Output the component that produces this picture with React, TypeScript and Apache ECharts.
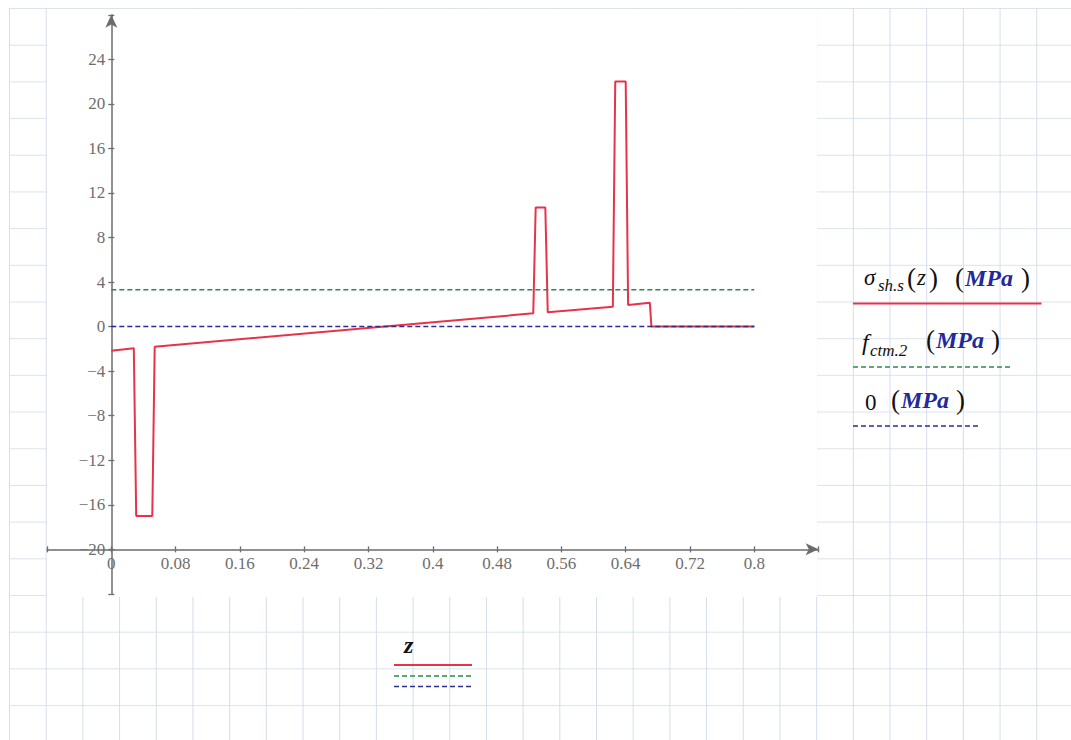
import React, { useEffect, useRef } from "react";
import * as echarts from "echarts";

// Shrinkage stress along the section depth z (m) and reference levels (MPa)
const zValues = [0, 0.028, 0.031, 0.051, 0.054, 0.525, 0.528, 0.54, 0.543, 0.624, 0.627, 0.64, 0.643, 0.67, 0.672, 0.8];
const sigmaValues = [-2.16, -1.95, -17, -17, -1.8, 1.19, 10.7, 10.7, 1.28, 1.79, 22, 22, 1.94, 2.15, 0, 0];
const fctmLevel = 3.3;
const zeroLevel = 0;
const zSpan = [0, 0.8];

// Axis extents and tick steps
const xExtent = [-0.08, 0.88];
const yExtent = [-24, 28];
const xStep = 0.08;
const yStep = 4;
const xLabelRange = [0, 0.8];
const yLabelRange = [-20, 24];

const W = 1071;
const H = 740;
const GRID = { left: 47, top: 14.8, width: 771.6, height: 579.1 };

const RED = "#e8324a";
const GREEN = "#2a8a4c";
const NAVY = "#2c2c92";
const MPA = "#1f2a9c";
const AXIS = "#6c6c6c";
const LABEL = "#6e6e6e";
const SERIF = "'Liberation Serif', 'Times New Roman', serif";

function fmtNum(v: number): string {
  const s = String(+v.toFixed(2));
  return s.replace("-", "\u2212");
}

function txt(x: number, y: number, text: string, extra: any = {}) {
  return {
    type: "text",
    x,
    y,
    style: {
      text,
      fontFamily: SERIF,
      fontSize: 22,
      fill: "#111",
      verticalAlign: "middle",
      align: "left",
      ...extra,
    },
  };
}

function seg(x1: number, y1: number, x2: number, y2: number, stroke: string, dash?: number[], lw = 1.6) {
  return {
    type: "line",
    shape: { x1, y1, x2, y2 },
    style: { stroke, lineWidth: lw, lineDash: dash || null },
  };
}

export default function App() {
  const ref = useRef<HTMLDivElement>(null);

  useEffect(() => {
    if (!ref.current) return;
    const chart = echarts.init(ref.current, undefined, { renderer: "svg" });

    const xOffset = -((-20 - yExtent[0]) / (yExtent[1] - yExtent[0])) * GRID.height;
    const yOffset = -((0 - xExtent[0]) / (xExtent[1] - xExtent[0])) * GRID.width;

    const baseX = {
      type: "value",
      min: xExtent[0],
      max: xExtent[1],
      interval: xStep,
      position: "bottom",
      offset: xOffset,
      splitLine: { show: false },
    };
    const baseY = {
      type: "value",
      min: yExtent[0],
      max: yExtent[1],
      interval: yStep,
      position: "left",
      offset: yOffset,
      splitLine: { show: false },
    };

    const sigmaData = zValues.map((z, i) => [z, sigmaValues[i]]);
    const fctmData = zSpan.map((z) => [z, fctmLevel]);
    const zeroData = zSpan.map((z) => [z, zeroLevel]);

    chart.setOption({
      animation: false,
      backgroundColor: "transparent",
      grid: { ...GRID, containLabel: false, outerBoundsMode: "none" },
      xAxis: [
        {
          ...baseX,
          axisLine: {
            show: true,
            onZero: false,
            symbol: ["none", "arrow"],
            symbolSize: [9, 13],
            lineStyle: { color: AXIS, width: 1.5 },
          },
          axisTick: { show: true, inside: false, length: 3, lineStyle: { color: AXIS, width: 1.3 } },
          axisLabel: {
            margin: 6,
            color: LABEL,
            fontFamily: SERIF,
            fontSize: 17,
            formatter: (v: number) =>
              v < xLabelRange[0] - 1e-6 || v > xLabelRange[1] + 1e-6 ? "" : fmtNum(v),
          },
        },
        {
          ...baseX,
          axisLine: { show: false, onZero: false },
          axisTick: { show: true, inside: true, length: 3, lineStyle: { color: AXIS, width: 1.3 } },
          axisLabel: { show: false },
        },
      ],
      yAxis: [
        {
          ...baseY,
          axisLine: {
            show: true,
            onZero: false,
            symbol: ["none", "arrow"],
            symbolSize: [9, 13],
            lineStyle: { color: AXIS, width: 1.5 },
          },
          axisTick: { show: true, inside: false, length: 3, lineStyle: { color: AXIS, width: 1.3 } },
          axisLabel: {
            margin: 6,
            color: LABEL,
            fontFamily: SERIF,
            fontSize: 17,
            formatter: (v: number) =>
              v < yLabelRange[0] - 1e-6 || v > yLabelRange[1] + 1e-6 ? "" : fmtNum(v),
          },
        },
        {
          ...baseY,
          axisLine: { show: false, onZero: false },
          axisTick: { show: true, inside: true, length: 3, lineStyle: { color: AXIS, width: 1.3 } },
          axisLabel: { show: false },
        },
      ],
      series: [
        {
          type: "line",
          data: sigmaData,
          showSymbol: false,
          lineStyle: { color: RED, width: 2 },
          z: 3,
        },
        {
          type: "line",
          data: fctmData,
          showSymbol: false,
          lineStyle: { color: GREEN, width: 1.5, type: [5, 3] },
          z: 4,
        },
        {
          type: "line",
          data: zeroData,
          showSymbol: false,
          lineStyle: { color: NAVY, width: 1.5, type: [5, 3] },
          z: 5,
        },
      ],
      graphic: [
        // legend on the right
        txt(864, 277, "\u03c3", { fontStyle: "italic", fontSize: 23 }),
        txt(878, 285, "sh.s", { fontStyle: "italic", fontSize: 17 }),
        txt(907, 278, "(", { fontSize: 27 }),
        txt(917, 277, "z", { fontStyle: "italic", fontSize: 23 }),
        txt(929, 278, ")", { fontSize: 27 }),
        txt(955, 278, "(", { fontSize: 27 }),
        txt(965, 278, "MPa", { fontStyle: "italic", fontWeight: "bold", fontSize: 24, fill: MPA }),
        txt(1021, 278, ")", { fontSize: 27 }),
        seg(853, 303.5, 1041.5, 303.5, RED, undefined, 2),

        txt(862, 342, "f", { fontStyle: "italic", fontSize: 24 }),
        txt(870, 350, "ctm.2", { fontStyle: "italic", fontSize: 17 }),
        txt(926, 340, "(", { fontSize: 27 }),
        txt(936, 340, "MPa", { fontStyle: "italic", fontWeight: "bold", fontSize: 24, fill: MPA }),
        txt(991, 340, ")", { fontSize: 27 }),
        seg(853, 367, 1012, 367, GREEN, [5, 3]),

        txt(865, 402, "0", { fontSize: 23 }),
        txt(891, 400, "(", { fontSize: 27 }),
        txt(901, 400, "MPa", { fontStyle: "italic", fontWeight: "bold", fontSize: 24, fill: MPA }),
        txt(956, 400, ")", { fontSize: 27 }),
        seg(853, 426, 980, 426, NAVY, [5, 3]),

        // legend below the plot
        txt(404, 645, "z", { fontStyle: "italic", fontWeight: "bold", fontSize: 24 }),
        seg(394, 665, 472, 665, RED, undefined, 2),
        seg(394, 676, 472, 676, GREEN, [5, 3]),
        seg(394, 686.5, 472, 686.5, NAVY, [5, 3]),
      ],
    });

    return () => chart.dispose();
  }, []);

  return (
    <div
      style={{
        position: "fixed",
        left: 0,
        top: 0,
        width: W,
        height: H,
        background: "#fff",
        overflow: "hidden",
      }}
    >
      <div
        style={{
          position: "absolute",
          left: 9,
          top: 8,
          right: 0,
          bottom: 0,
          backgroundImage:
            "linear-gradient(to right, #d5deeb 1px, transparent 1px), linear-gradient(to bottom, #dce3ed 1px, transparent 1px)",
          backgroundSize: "36.7px 36.7px",
        }}
      />
      <div
        style={{
          position: "absolute",
          left: 47,
          top: 9,
          width: 770,
          height: 588,
          background: "#fff",
        }}
      />
      <div ref={ref} style={{ position: "absolute", left: 0, top: 0, width: W, height: H }} />
    </div>
  );
}
